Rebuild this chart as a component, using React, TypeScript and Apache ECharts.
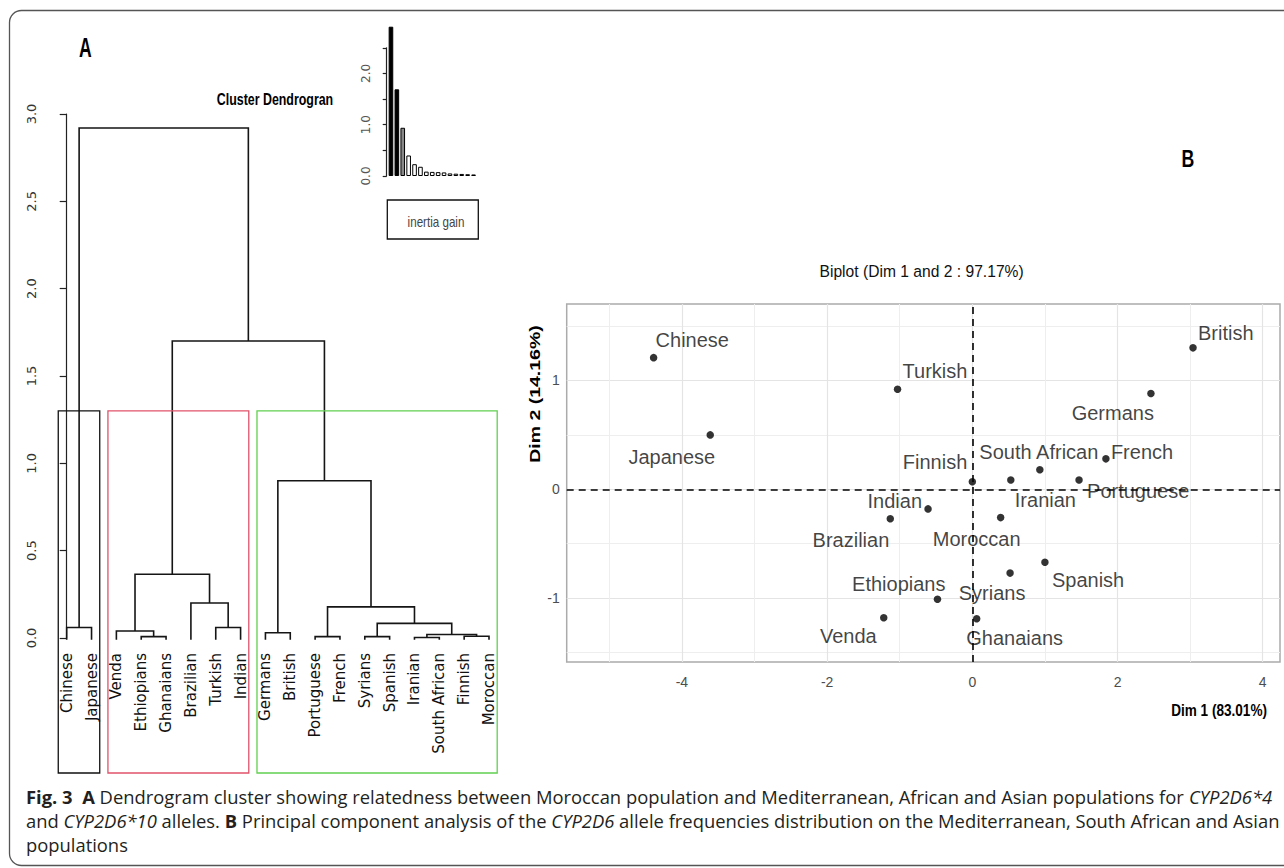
import { useEffect, useRef } from 'react';
import * as echarts from 'echarts';

// ---------- Panel A: dendrogram data ----------
const leaves = ['Chinese', 'Japanese', 'Venda', 'Ethiopians', 'Ghanaians', 'Brazilian', 'Turkish', 'Indian', 'Germans', 'British', 'Portuguese', 'French', 'Syrians', 'Spanish', 'Iranian', 'South African', 'Finnish', 'Moroccan'];
// R hclust-style merges: negative = leaf (1-based), positive = earlier merge (1-based)
const mergeLeft = [-15, -4, -11, -13, -17, 1, -9, -3, -1, -7, 4, 3, -6, 8, 7, 14, 9];
const mergeRight = [-16, -5, -12, -14, -18, 5, -10, 2, -2, -8, 6, 11, 10, 13, 12, 15, 16];
const mergeHeight = [0.003, 0.008, 0.008, 0.008, 0.01, 0.02, 0.03, 0.04, 0.06, 0.06, 0.084, 0.178, 0.2, 0.365, 0.9, 1.7, 2.92];
const clusterFirst = [0, 2, 8];
const clusterLast = [1, 7, 17];
const cutHeight = 1.3;
const dendroTicks = [0, 0.5, 1, 1.5, 2, 2.5, 3];

// inset: inertia gain
const inertiaGain = [2.91, 1.69, 0.94, 0.4, 0.23, 0.18, 0.085, 0.08, 0.075, 0.07, 0.05, 0.045, 0.04, 0.035, 0.03];

// ---------- Panel B: PCA biplot data ----------
const populations = ['Chinese', 'Japanese', 'Turkish', 'British', 'Germans', 'Finnish', 'South African', 'French', 'Portuguese', 'Iranian', 'Indian', 'Brazilian', 'Moroccan', 'Spanish', 'Syrians', 'Ethiopians', 'Ghanaians', 'Venda'];
const dim1 = [-4.39, -3.61, -1.03, 3.04, 2.46, 0.0, 0.93, 1.84, 1.47, 0.53, -0.61, -1.13, 0.39, 1.0, 0.52, -0.48, 0.06, -1.22];
const dim2 = [1.21, 0.5, 0.92, 1.3, 0.88, 0.07, 0.18, 0.28, 0.085, 0.085, -0.18, -0.27, -0.26, -0.67, -0.77, -1.01, -1.19, -1.18];
const xMajorTicks = [-4, -2, 0, 2, 4];
const xMinorTicks = [-5, -3, -1, 1, 3];
const yMajorTicks = [-1, 0, 1];
const yMinorTicks = [-1.5, -0.5, 0.5, 1.5];

// caption lines
const captionLines = [
  '{b|Fig. 3}  {b|A} Dendrogram cluster showing relatedness between Moroccan population and Mediterranean, African and Asian populations for {i|CYP2D6*4}',
  'and {i|CYP2D6*10} alleles. {b|B} Principal component analysis of the {i|CYP2D6} allele frequencies distribution on the Mediterranean, South African and Asian',
  'populations',
];

// label placement (layout only): [align, dx, dy]
const labelPlace: Record<string, [string, number, number]> = {
  'Chinese': ['left', 2, -18],
  'Japanese': ['right', 5, 22],
  'Turkish': ['left', 5, -18],
  'British': ['left', 5, -15],
  'Germans': ['right', 3, 19],
  'Finnish': ['right', -5, -20],
  'South African': ['center', -1, -18],
  'French': ['left', 5, -7],
  'Portuguese': ['left', 8, 11],
  'Iranian': ['left', 4, 20],
  'Indian': ['right', -6, -8],
  'Brazilian': ['right', -1, 21],
  'Moroccan': ['center', -24, 21],
  'Spanish': ['left', 7, 18],
  'Syrians': ['center', -18, 20],
  'Ethiopians': ['right', 8, -15],
  'Ghanaians': ['center', 38, 19],
  'Venda': ['right', -7, 18],
};

const SANS = "'Liberation Sans', Arial, sans-serif";
const DEJAVU = "'DejaVu Sans', sans-serif";
const CAPF = "'Open Sans', 'Liberation Sans', sans-serif";
const LEAF_END = -0.01;
const RECT_BOTTOM = -0.773;
const rectColors = ['#111111', '#DF536B', '#61D04F'];

const mergeX: number[] = [];
const refX = (r: number): number => (r < 0 ? -r - 1 : mergeX[r - 1]);
const refH = (r: number): number => (r < 0 ? LEAF_END : mergeHeight[r - 1]);
mergeHeight.forEach((_, i) => {
  mergeX[i] = (refX(mergeLeft[i]) + refX(mergeRight[i])) / 2;
});

function txt(text: string, x: number, y: number, o: any = {}) {
  const { fontSize = 14, fontWeight = 'normal', family = SANS, fill = '#000', align = 'center', vAlign = 'middle', ...rest } = o;
  return {
    type: 'text', x, y, z: 20, silent: true, ...rest,
    style: { text, fontSize, fontWeight, fontFamily: family, fill, align, textAlign: align, verticalAlign: vAlign, textVerticalAlign: vAlign },
  };
}

export default function App() {
  const ref = useRef<HTMLDivElement>(null);
  useEffect(() => {
    const chart = echarts.init(ref.current!, null, { renderer: 'svg' });
    const CS = 17.5;
    const LH = 24;
    const capRich = {
      b: { fontWeight: 'bold', fontSize: CS, fontFamily: CAPF, fill: '#231F20', lineHeight: LH },
      i: { fontStyle: 'italic', fontSize: CS, fontFamily: CAPF, fill: '#231F20', lineHeight: LH },
    };

    const option: any = {
      animation: false,
      backgroundColor: '#ffffff',
      grid: [
        { left: 66.7, top: 114, width: 422.3, height: 524 },
        { left: 388, top: 47.75, width: 88.5, height: 128.25 },
        { left: 566.7, top: 304, width: 713.3, height: 358, show: true, borderColor: '#ABABAB', borderWidth: 1.5, backgroundColor: '#ffffff' },
      ],
      xAxis: [
        {
          gridIndex: 0, type: 'value', min: 0, max: 17, interval: 1,
          axisLine: { show: false }, axisTick: { show: false }, splitLine: { show: false },
          axisLabel: { rotate: 90, margin: 15, fontSize: 15, fontFamily: DEJAVU, color: '#111', formatter: (v: number) => leaves[v] ?? '' },
        },
        { gridIndex: 1, type: 'category', data: inertiaGain.map((_, i) => String(i + 1)), show: false },
        {
          gridIndex: 2, type: 'value', min: -5.587, max: 4.238,
          axisLine: { show: false },
          axisTick: { show: false, customValues: xMajorTicks },
          axisLabel: { customValues: xMajorTicks, margin: 13, fontSize: 14, fontFamily: SANS, color: '#4D4D4D' },
          splitLine: { show: true, lineStyle: { color: '#E4E4E4', width: 1.2 } },
        },
        {
          gridIndex: 2, type: 'value', min: -5.587, max: 4.238, position: 'top',
          axisLine: { show: false },
          axisTick: { show: false, customValues: xMinorTicks },
          axisLabel: { show: false },
          splitLine: { show: true, lineStyle: { color: '#EEEEEE', width: 1 } },
        },
      ],
      yAxis: [
        {
          gridIndex: 0, type: 'value', min: 0, max: 3, interval: 0.5, offset: 16.7,
          axisLine: { show: true, lineStyle: { color: '#222', width: 1.2 } },
          axisTick: { show: true, length: 7, lineStyle: { color: '#222', width: 1.2 }, customValues: dendroTicks },
          axisLabel: { rotate: 90, margin: 12, fontSize: 13, fontFamily: DEJAVU, color: '#333', formatter: (v: number) => v.toFixed(1) },
          splitLine: { show: false },
        },
        {
          gridIndex: 1, type: 'value', min: 0, max: 2.5, interval: 0.5, offset: 1.3,
          axisLine: { show: true, lineStyle: { color: '#222', width: 1.2 } },
          axisTick: { show: true, length: 4, lineStyle: { color: '#222', width: 1.2 } },
          axisLabel: { rotate: 90, margin: 15, fontSize: 12, fontFamily: DEJAVU, color: '#555', formatter: (v: number) => (Math.abs(v - Math.round(v)) < 1e-9 ? v.toFixed(1) : '') },
          splitLine: { show: false },
        },
        {
          gridIndex: 2, type: 'value', min: -1.587, max: 1.703,
          axisLine: { show: false },
          axisTick: { show: false, customValues: yMajorTicks },
          axisLabel: { customValues: yMajorTicks, margin: 7, fontSize: 14, fontFamily: SANS, color: '#4D4D4D' },
          splitLine: { show: true, lineStyle: { color: '#E4E4E4', width: 1.2 } },
        },
        {
          gridIndex: 2, type: 'value', min: -1.587, max: 1.703, position: 'right',
          axisLine: { show: false },
          axisTick: { show: false, customValues: yMinorTicks },
          axisLabel: { show: false },
          splitLine: { show: true, lineStyle: { color: '#EEEEEE', width: 1 } },
        },
      ],
      series: [
        {
          type: 'custom', xAxisIndex: 0, yAxisIndex: 0, silent: true, clip: false,
          data: mergeHeight.map((h, i) => [i, h]),
          renderItem: (_p: any, api: any) => {
            const i = api.value(0);
            const l = mergeLeft[i];
            const r = mergeRight[i];
            const h = mergeHeight[i];
            const pts = [api.coord([refX(l), refH(l)]), api.coord([refX(l), h]), api.coord([refX(r), h]), api.coord([refX(r), refH(r)])];
            return { type: 'polyline', shape: { points: pts }, style: { stroke: '#151515', lineWidth: 1.6, fill: null } };
          },
        },
        {
          type: 'custom', xAxisIndex: 0, yAxisIndex: 0, silent: true, clip: false,
          data: clusterFirst.map((_, k) => [k, cutHeight]),
          renderItem: (_p: any, api: any) => {
            const k = api.value(0);
            const p1 = api.coord([clusterFirst[k] - 0.34, cutHeight]);
            const p2 = api.coord([clusterLast[k] + 0.33, RECT_BOTTOM]);
            return { type: 'rect', shape: { x: p1[0], y: p1[1], width: p2[0] - p1[0], height: p2[1] - p1[1] }, style: { fill: null, stroke: rectColors[k], lineWidth: 1.3 } };
          },
        },
        {
          type: 'bar', xAxisIndex: 1, yAxisIndex: 1, silent: true, clip: false, barWidth: 4.6,
          data: inertiaGain.map((v, i) => ({ value: v, itemStyle: { color: i < 2 ? '#000' : (i === 2 ? '#888' : '#fff'), borderColor: '#000', borderWidth: 1 } })),
        },
        {
          type: 'scatter', xAxisIndex: 2, yAxisIndex: 2, silent: true, symbolSize: 7.5,
          itemStyle: { color: '#000' },
          data: populations.map((n, i) => {
            const [align, dx, dy] = labelPlace[n];
            return {
              name: n, value: [dim1[i], dim2[i]],
              label: { show: true, position: 'inside', align, verticalAlign: 'middle', offset: [dx, dy], formatter: '{b}', fontSize: 20, fontFamily: SANS, color: '#111' },
            };
          }),
          markLine: {
            silent: true, symbol: 'none', label: { show: false },
            lineStyle: { color: '#000', type: [7, 5], width: 1.6 },
            data: [{ xAxis: 0 }, { yAxis: 0 }],
          },
        },
      ],
      graphic: [
        { type: 'rect', z: 1, silent: true, shape: { x: 9.5, y: 10.5, width: 1300, height: 855, r: 12 }, style: { fill: 'none', stroke: '#555', lineWidth: 1.3 } },
        txt('A', 85.3, 47, { fontSize: 17.6, fontWeight: 'bold', scaleY: 1.55 }),
        txt('Cluster Dendrogran', 275, 99, { fontSize: 15.5, fontWeight: 'bold', scaleX: 0.8, scaleY: 1.05 }),
        { type: 'rect', z: 10, silent: true, shape: { x: 387.3, y: 200, width: 91, height: 39 }, style: { fill: 'none', stroke: '#111', lineWidth: 1.3 } },
        txt('inertia gain', 436, 222, { fontSize: 14, fill: '#444', scaleX: 0.83 }),
        txt('B', 1188, 158.8, { fontSize: 17.7, fontWeight: 'bold', scaleY: 1.38 }),
        txt('Biplot (Dim 1 and 2 : 97.17%)', 921.6, 271, { fontSize: 17, scaleX: 0.92, fill: '#111' }),
        txt('Dim 2 (14.16%)', 535, 394, { fontSize: 15, fontWeight: 'bold', rotation: Math.PI / 2, scaleX: 1.3 }),
        txt('Dim 1 (83.01%)', 1267, 710, { fontSize: 14, fontWeight: 'bold', align: 'right', scaleX: 0.97, scaleY: 1.2 }),
        {
          type: 'text', x: 26, y: 785, z: 20, silent: true, scaleX: 1.05,
          style: {
            text: captionLines.join('\n'), rich: capRich, fontSize: CS, lineHeight: LH, fontFamily: CAPF, fill: '#231F20',
            align: 'left', textAlign: 'left', verticalAlign: 'top', textVerticalAlign: 'top',
          },
        },
      ],
    };
    chart.setOption(option);
    return () => chart.dispose();
  }, []);
  return <div ref={ref} style={{ position: 'fixed', left: 0, top: 0, width: 1284, height: 868, background: '#fff' }} />;
}
